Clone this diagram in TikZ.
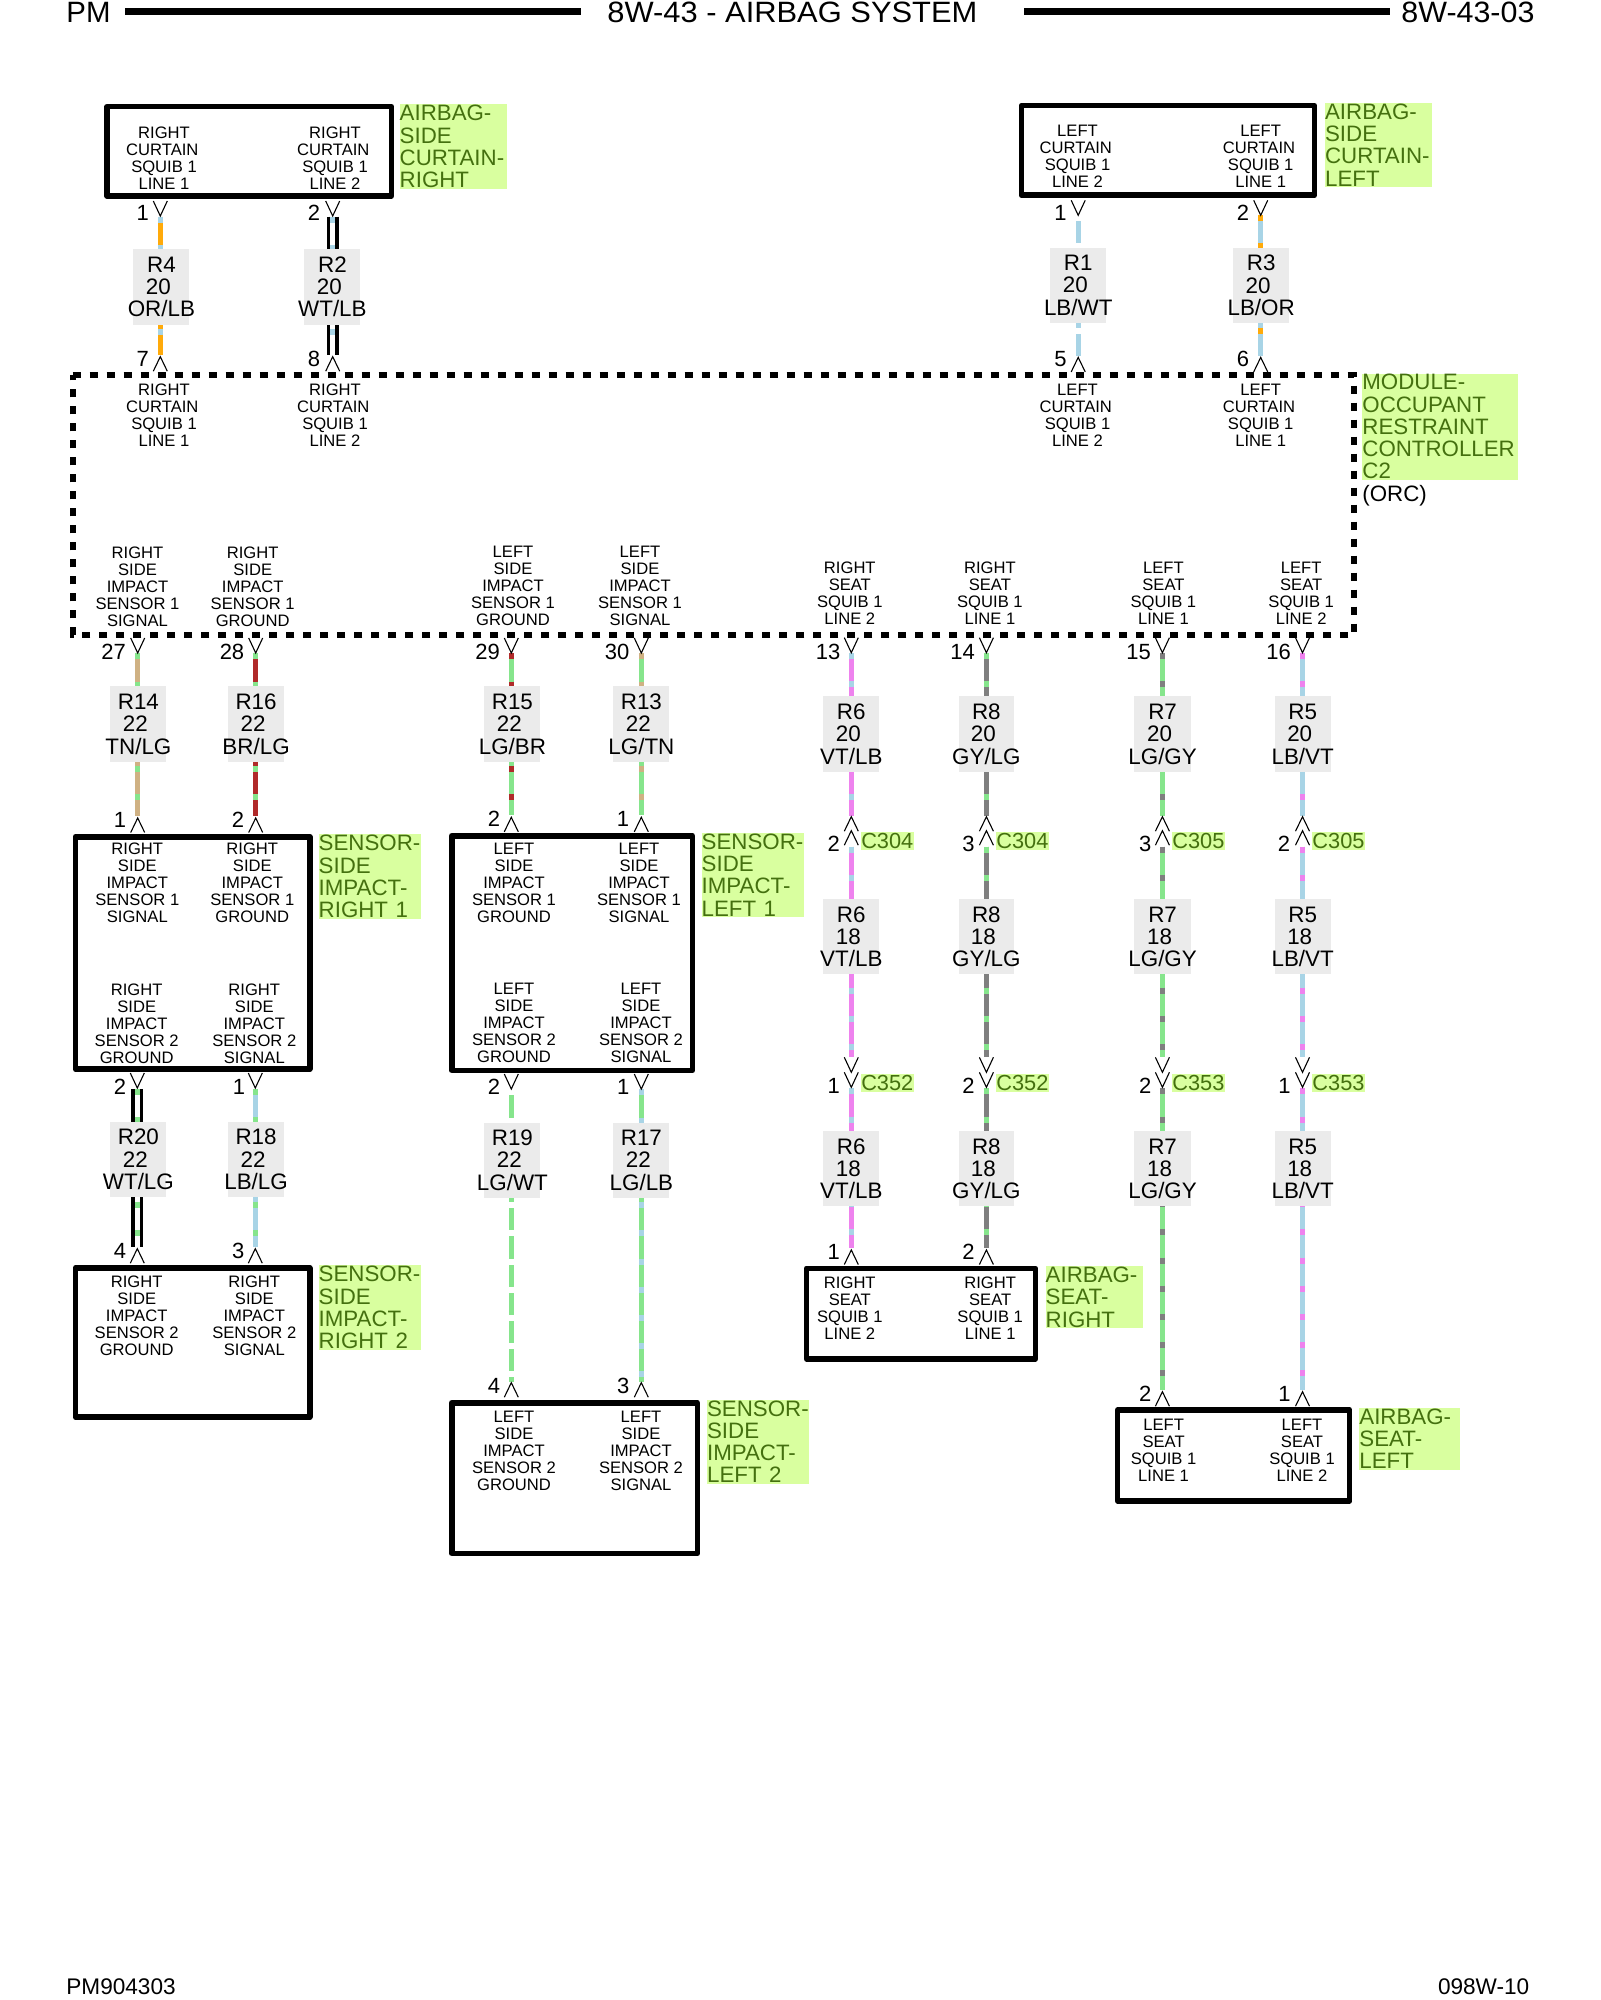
\documentclass[tikz,border=0pt]{standalone}
\usepackage{fontspec}
\usepackage{graphicx}
\setmainfont{Liberation Sans}
\definecolor{cOR}{HTML}{FFAA0A}
\definecolor{cLB}{HTML}{A8D4E6}
\definecolor{cLG}{HTML}{86E58C}
\definecolor{cTN}{HTML}{CFB183}
\definecolor{cBR}{HTML}{B02A2A}
\definecolor{cVT}{HTML}{EE82EE}
\definecolor{cGY}{HTML}{7F7F7F}
\definecolor{cWT}{HTML}{FFFFFF}
\definecolor{gbg}{HTML}{D9FF9F}
\definecolor{gtx}{HTML}{44700F}
\definecolor{lbg}{HTML}{EBEBEB}
\tikzset{
  wiremain/.style={line width=2.5pt},
  wiretracer/.style={line width=2.5pt,dash pattern=on 3pt off 11.1pt},
  wireblack/.style={line width=1.65pt,draw=black},
  pinmark/.style={line width=.55pt,draw=black},
  compbox/.style={draw=black,line width=2.8pt,line join=round,inner sep=0pt,outer sep=0pt,fill=none},
  orcline/.style={draw=black,line width=2.8pt,dash pattern=on 4.25pt off 4.25pt},
  headline/.style={draw=black,line width=3.2pt},
  smalltxt/.style={inner sep=0pt,align=center,font=\fontsize{8.3}{8.5}\selectfont},
  wirelab/.style={fill=lbg,inner sep=0pt,anchor=north west,align=center,font=\fontsize{11.2}{11.15}\selectfont},
  pintxt/.style={inner sep=0pt,font=\fontsize{11}{11}\selectfont},
  greenlab/.style={fill=gbg,text=gtx,inner sep=0pt,anchor=north west,align=left,font=\fontsize{11.15}{11.15}\selectfont},
  connlab/.style={fill=gbg,text=gtx,inner sep=0pt,anchor=north west,align=center,font=\fontsize{10.9}{11}\selectfont},
  headtxt/.style={inner sep=0pt,anchor=base west,font=\fontsize{14.7}{15}\selectfont},
  foottxt/.style={inner sep=0pt,anchor=base west,font=\fontsize{11.3}{12}\selectfont}
}
\newcommand\tw{\rule{3pt}{0pt}}
\newcommand\oa{\rule{1.7pt}{0pt}}
\newcommand\mkwire[6]{%
  \coordinate (#1a) at (#2,#3);\coordinate (#1b) at (#2,#4);
  \draw[wiremain,draw=#5] (#1a) -- (#1b);
  \draw[wiretracer,draw=#6] (#1a) -- (#1b);}
\newcommand\mkdouble[5]{%
  \coordinate (#1a) at (#2,#3);\coordinate (#1b) at (#2,#4);
  \draw[wireblack] ([xshift=-2.17pt]#1a) -- ([xshift=-2.17pt]#1b);
  \draw[wireblack] ([xshift=2.17pt]#1a) -- ([xshift=2.17pt]#1b);
  \draw[wiretracer,draw=#5] (#1a) -- (#1b);}
\newcommand\chV[2]{\draw[pinmark] ([shift={(-7,#2-15)}]#1) -- ([shift={(0,#2)}]#1) -- ([shift={(7,#2-15)}]#1);}
\newcommand\chA[2]{\draw[pinmark] ([shift={(-7,#2+14.5)}]#1) -- ([shift={(0,#2)}]#1) -- ([shift={(7,#2+14.5)}]#1);}
\newcommand\mkbox[5]{\pgfmathsetmacro\mybw{(#4-#2)*0.5}\pgfmathsetmacro\mybh{(#5-#3)*0.5}%
  \node[compbox,anchor=north west,minimum width=\mybw pt,minimum height=\mybh pt] (#1) at (#2,#3) {};}
\newcommand\mkwlab[8]{\pgfmathsetmacro\mybw{(#4-#2)*0.5}\pgfmathsetmacro\mybh{(#5-#3)*0.5}%
  \node[wirelab,minimum width=\mybw pt,minimum height=\mybh pt] (#1) at (#2,#3)
   {\makebox[0pt]{#6}\\\makebox[0pt]{#7\tw}\\\makebox[0pt]{#8}};}
\newcommand\mkgreen[6]{\pgfmathsetmacro\mybw{(#4-#2)*0.5}\pgfmathsetmacro\mybh{(#5-#3)*0.5}%
  \node[greenlab,text width=\mybw pt,minimum height=\mybh pt] (#1) at (#2,#3) {#6};}
\newcommand\mkclab[6]{\pgfmathsetmacro\mybw{(#4-#2)*0.5}\pgfmathsetmacro\mybh{(#5-#3)*0.5}%
  \node[connlab,minimum width=\mybw pt,minimum height=\mybh pt] (#1) at (#2,#3) {\makebox[0pt]{#6}};}
\newcommand\mkpin[4]{\node[pintxt] (#1) at (#2,#3) {#4};}
\newcommand\mkblk[4]{\node[smalltxt] (#1) at (#2,#3) {#4};}
\begin{document}
\begin{tikzpicture}[x=0.5pt,y=-0.5pt]
\useasboundingbox (0,0) rectangle (1600,2000);
\fill[white] (0,0) rectangle (1600,2000);
% header and footer
\node[headtxt] (hpm) at (66,23) {PM};
\node[headtxt] (htitle) at (607,23) {\scalebox{1.05}[1]{8W-43 - AIRBAG SYSTEM}};
\node[headtxt] (hcode) at (1401,23) {\scalebox{1.035}[1]{8W-43-03}};
\coordinate (hl1a) at (125,11.5);\coordinate (hl1b) at (581,11.5);
\coordinate (hl2a) at (1024,11.5);\coordinate (hl2b) at (1390,11.5);
\draw[headline] (hl1a) -- (hl1b);
\draw[headline] (hl2a) -- (hl2b);
\node[foottxt] (fl) at (66,1994) {PM904303};
\node[foottxt] (fr) at (1437.6,1994) {098W-10};
% wires
\mkwire{wa}{160.3}{216.7}{355}{cOR}{cLB}
\mkdouble{wb}{332.7}{216.7}{355}{cLB}
\mkwire{wc}{1078.2}{215}{355.7}{cLB}{cWT}
\mkwire{wd}{1260.7}{215}{355.7}{cLB}{cOR}
\mkwire{we}{137.7}{653.3}{816}{cTN}{cLG}
\mkwire{wf}{255.7}{653.3}{816}{cBR}{cLG}
\mkwire{wg}{511.3}{653.3}{815.3}{cLG}{cBR}
\mkwire{wh}{641.3}{653.3}{815.3}{cLG}{cTN}
\mkwire{wia}{851.3}{653}{816}{cVT}{cLB}
\mkwire{wib}{851.3}{846.7}{1056.7}{cVT}{cLB}
\mkwire{wic}{851.3}{1088.3}{1247.7}{cVT}{cLB}
\mkwire{wja}{986.4}{653}{816}{cGY}{cLG}
\mkwire{wjb}{986.4}{846.7}{1056.7}{cGY}{cLG}
\mkwire{wjc}{986.4}{1088.3}{1247.7}{cGY}{cLG}
\mkwire{wka}{1162.4}{653}{816}{cLG}{cGY}
\mkwire{wkb}{1162.4}{846.7}{1056.7}{cLG}{cGY}
\mkwire{wkc}{1162.4}{1088.3}{1390}{cLG}{cGY}
\mkwire{wla}{1302.5}{653}{816}{cLB}{cVT}
\mkwire{wlb}{1302.5}{846.7}{1056.7}{cLB}{cVT}
\mkwire{wlc}{1302.5}{1088.3}{1390}{cLB}{cVT}
\mkdouble{wm}{137.3}{1088.8}{1246.8}{cLG}
\mkwire{wn}{255.3}{1088.8}{1246.8}{cLB}{cLG}
\mkwire{wo}{511.3}{1089.3}{1381.7}{cLG}{cWT}
\mkwire{wp}{641.3}{1089.3}{1381.7}{cLG}{cLB}
% chevrons
\chV{waa}{-0.7}\chA{wab}{1.7}
\chV{wba}{-0.7}\chA{wbb}{1.7}
\chV{wca}{0.3}\chA{wcb}{1.7}
\chV{wda}{0.3}\chA{wdb}{1.7}
% wire label boxes
\mkwlab{l1}{133}{248.3}{189}{324.7}{R4}{20}{OR/LB}
\mkwlab{l2}{304}{248.3}{360}{324.7}{R2}{20}{WT/LB}
\mkwlab{l3}{1050}{247.3}{1105.7}{322.7}{R1}{20}{LB/WT}
\mkwlab{l4}{1233}{247.3}{1288.5}{322.7}{R3}{20}{LB/OR}
\mkwlab{l5}{110}{686}{166}{761.7}{R14}{22}{TN/LG}
\mkwlab{l6}{227.7}{686}{283.7}{761.7}{R16}{22}{BR/LG}
\mkwlab{l7}{484}{686}{540}{761.7}{R15}{22}{LG/BR}
\mkwlab{l8}{613}{686}{669}{761.7}{R13}{22}{LG/TN}
\mkwlab{l9}{823}{696}{878.8}{771.7}{R6}{20}{VT/LB}
\mkwlab{l10}{823}{898.7}{878.8}{974}{R6}{18}{VT/LB}
\mkwlab{l11}{823}{1130.7}{878.8}{1206}{R6}{18}{VT/LB}
\mkwlab{l12}{958.4}{696}{1013.5}{771.7}{R8}{20}{GY/LG}
\mkwlab{l13}{958.4}{898.7}{1013.5}{974}{R8}{18}{GY/LG}
\mkwlab{l14}{958.4}{1130.7}{1013.5}{1206}{R8}{18}{GY/LG}
\mkwlab{l15}{1134}{696}{1190.4}{771.7}{R7}{20}{LG/GY}
\mkwlab{l16}{1134}{898.7}{1190.4}{974}{R7}{18}{LG/GY}
\mkwlab{l17}{1134}{1130.7}{1190.4}{1206}{R7}{18}{LG/GY}
\mkwlab{l18}{1274.2}{696}{1330.4}{771.7}{R5}{20}{LB/VT}
\mkwlab{l19}{1274.2}{898.7}{1330.4}{974}{R5}{18}{LB/VT}
\mkwlab{l20}{1274.2}{1130.7}{1330.4}{1206}{R5}{18}{LB/VT}
\mkwlab{l21}{110}{1121.3}{166}{1196.7}{R20}{22}{WT/LG}
\mkwlab{l22}{227.7}{1121.3}{283.7}{1196.7}{R18}{22}{LB/LG}
\mkwlab{l23}{484}{1122.3}{540}{1197.3}{R19}{22}{LG/WT}
\mkwlab{l24}{613}{1122.3}{669}{1197.3}{R17}{22}{LG/LB}
% chevrons of the lower runs
\chV{wea}{-0.3}\chA{web}{2}
\chV{wfa}{-0.3}\chA{wfb}{2}
\chV{wga}{-0.3}\chA{wgb}{2}
\chV{wha}{-0.3}\chA{whb}{2}
\chV{wiaa}{-0.3}\chA{wiab}{0.7}\chA{wiab}{14.7}
\chV{wjaa}{-0.3}\chA{wjab}{0.7}\chA{wjab}{14.7}
\chV{wkaa}{-0.3}\chA{wkab}{0.7}\chA{wkab}{14.7}
\chV{wlaa}{-0.3}\chA{wlab}{0.7}\chA{wlab}{14.7}
\chV{wibb}{15.6}\chV{wibb}{30.6}
\chV{wjbb}{15.6}\chV{wjbb}{30.6}
\chV{wkbb}{15.6}\chV{wkbb}{30.6}
\chV{wlbb}{15.6}\chV{wlbb}{30.6}
\chA{wicb}{2.3}\chA{wjcb}{2.3}\chA{wkcb}{1.7}\chA{wlcb}{1.7}
\chV{wma}{-0.8}\chA{wmb}{1.9}
\chV{wna}{-0.8}\chA{wnb}{1.9}
\chV{woa}{-0.3}\chA{wob}{1}
\chV{wpa}{-0.3}\chA{wpb}{1}
% pin numbers
\mkpin{p1}{142.7}{213}{1}\mkpin{p2}{142.7}{358.7}{7}
\mkpin{p3}{314}{213}{2}\mkpin{p4}{314}{358.7}{8}
\mkpin{p5}{1060.6}{212.7}{1}\mkpin{p6}{1060.6}{358.7}{5}
\mkpin{p7}{1243}{212.7}{2}\mkpin{p8}{1243}{358.7}{6}
\mkpin{p9}{113.7}{651.7}{27}\mkpin{p10}{120}{820}{1}
\mkpin{p11}{232}{651.7}{28}\mkpin{p12}{238}{820}{2}
\mkpin{p13}{487.7}{651.7}{29}\mkpin{p14}{494}{819}{2}
\mkpin{p15}{617}{651.7}{30}\mkpin{p16}{623}{819}{1}
\mkpin{p17}{828}{651.7}{13}\mkpin{p18}{833.7}{844}{2}\mkpin{p19}{833.7}{1085.7}{1}\mkpin{p20}{833.7}{1252.3}{1}
\mkpin{p21}{962.6}{651.7}{14}\mkpin{p22}{968.4}{844}{3}\mkpin{p23}{968.4}{1085.7}{2}\mkpin{p24}{968.4}{1252.3}{2}
\mkpin{p25}{1138.7}{651.7}{15}\mkpin{p26}{1145.2}{844}{3}\mkpin{p27}{1145.2}{1085.7}{2}\mkpin{p28}{1145.2}{1394.3}{2}
\mkpin{p29}{1278.7}{651.7}{16}\mkpin{p30}{1284}{844}{2}\mkpin{p31}{1284.5}{1085.7}{1}\mkpin{p32}{1284.5}{1394.3}{1}
\mkpin{p33}{120}{1086.8}{2}\mkpin{p34}{120}{1251.4}{4}
\mkpin{p35}{239}{1086.8}{1}\mkpin{p36}{238.3}{1251.4}{3}
\mkpin{p37}{494}{1086.7}{2}\mkpin{p38}{494}{1386}{4}
\mkpin{p39}{623.3}{1086.7}{1}\mkpin{p40}{623.3}{1386}{3}
% connector labels
\mkclab{c1}{860.5}{831.7}{913.3}{850}{C304}
\mkclab{c2}{995.6}{831.7}{1048.4}{850}{C304}
\mkclab{c3}{1171.6}{831.7}{1224.4}{850}{C305}
\mkclab{c4}{1311.7}{831.7}{1364.5}{850}{C305}
\mkclab{c5}{860.5}{1074}{913.3}{1091.7}{C352}
\mkclab{c6}{995.6}{1074}{1048.4}{1091.7}{C352}
\mkclab{c7}{1171.6}{1074}{1224.4}{1091.7}{C353}
\mkclab{c8}{1311.7}{1074}{1364.5}{1091.7}{C353}
% component boxes
\mkbox{ba}{107}{106.7}{391.3}{196}
\mkbox{bb}{1021.3}{105.7}{1314.4}{195.3}
\mkbox{bc}{75.3}{836.7}{309.7}{1069}
\mkbox{bd}{451.7}{835.7}{692.3}{1070.3}
\mkbox{be}{75.3}{1268}{309.7}{1417}
\mkbox{bf}{451.7}{1402.7}{697.3}{1553.3}
\mkbox{bg}{806.5}{1268.3}{1035.4}{1358.7}
\mkbox{bh}{1117.6}{1410}{1349.6}{1500.7}
% ORC dashed box
\node[inner sep=0pt,anchor=north west,minimum width=640.3pt,minimum height=129.5pt] (orc) at (72.7,375) {};
\draw[orcline] (orc.north west) -- (orc.north east) -- (orc.south east) -- (orc.south west) -- cycle;
% green labels
\mkgreen{ga}{399.3}{104}{506.7}{188.3}{AIRBAG-\\SIDE\\CURTAIN-\\RIGHT}
\mkgreen{gb}{1324.7}{102.3}{1431.5}{186.7}{AIRBAG-\\SIDE\\CURTAIN-\\LEFT}
\mkgreen{gc}{1362}{373.3}{1518}{479.3}{MODULE-\\OCCUPANT\\RESTRAINT\\CONTROLLER\\C2}
\node[inner sep=0pt,anchor=west,font=\fontsize{11.15}{11.15}\selectfont] (gorc) at (1362,496) {(ORC)};
\mkgreen{gd}{318.3}{834}{420.7}{918.5}{SENSOR-\\SIDE\\IMPACT-\\RIGHT 1}
\mkgreen{ge}{701.3}{832.3}{803.7}{916.7}{SENSOR-\\SIDE\\IMPACT-\\LEFT 1}
\mkgreen{gf}{318.3}{1264.8}{420.7}{1349.8}{SENSOR-\\SIDE\\IMPACT-\\RIGHT 2}
\mkgreen{gg}{706.7}{1399.3}{808.7}{1483.3}{SENSOR-\\SIDE\\IMPACT-\\LEFT 2}
\mkgreen{gh}{1045.3}{1266}{1142.5}{1327.7}{AIRBAG-\\SEAT-\\RIGHT}
\mkgreen{gi}{1359}{1407.3}{1460}{1469.3}{AIRBAG-\\SEAT-\\LEFT}
% terminal texts
\mkblk{t1}{164}{158.5}{RIGHT\\CURTAIN\oa\\SQUIB 1\\LINE 1}
\mkblk{t2}{335}{158.5}{RIGHT\\CURTAIN\oa\\SQUIB 1\\LINE 2}
\mkblk{t3}{1077.5}{156.2}{LEFT\\CURTAIN\oa\\SQUIB 1\\LINE 2}
\mkblk{t4}{1260.7}{156.2}{LEFT\\CURTAIN\oa\\SQUIB 1\\LINE 1}
\mkblk{t5}{164}{415.7}{RIGHT\\CURTAIN\oa\\SQUIB 1\\LINE 1}
\mkblk{t6}{335}{415.7}{RIGHT\\CURTAIN\oa\\SQUIB 1\\LINE 2}
\mkblk{t7}{1077.5}{415.5}{LEFT\\CURTAIN\oa\\SQUIB 1\\LINE 2}
\mkblk{t8}{1260.7}{415.5}{LEFT\\CURTAIN\oa\\SQUIB 1\\LINE 1}
\mkblk{t9}{137.5}{586.3}{RIGHT\\SIDE\\IMPACT\\SENSOR 1\\SIGNAL}
\mkblk{t10}{252.7}{586.3}{RIGHT\\SIDE\\IMPACT\\SENSOR 1\\GROUND}
\mkblk{t11}{513}{586.3}{LEFT\\SIDE\\IMPACT\\SENSOR 1\\GROUND}
\mkblk{t12}{640}{586.3}{LEFT\\SIDE\\IMPACT\\SENSOR 1\\SIGNAL}
\mkblk{t13}{849.8}{593}{RIGHT\\SEAT\\SQUIB 1\\LINE 2}
\mkblk{t14}{989.9}{593}{RIGHT\\SEAT\\SQUIB 1\\LINE 1}
\mkblk{t15}{1163.4}{593}{LEFT\\SEAT\\SQUIB 1\\LINE 1}
\mkblk{t16}{1301.2}{593}{LEFT\\SEAT\\SQUIB 1\\LINE 2}
\mkblk{t17}{137.3}{882.5}{RIGHT\\SIDE\\IMPACT\\SENSOR 1\\SIGNAL}
\mkblk{t18}{252.3}{882.5}{RIGHT\\SIDE\\IMPACT\\SENSOR 1\\GROUND}
\mkblk{t19}{136.7}{1023.5}{RIGHT\\SIDE\\IMPACT\\SENSOR 2\\GROUND}
\mkblk{t20}{254.3}{1023.5}{RIGHT\\SIDE\\IMPACT\\SENSOR 2\\SIGNAL}
\mkblk{t21}{514}{882.5}{LEFT\\SIDE\\IMPACT\\SENSOR 1\\GROUND}
\mkblk{t22}{639}{882.5}{LEFT\\SIDE\\IMPACT\\SENSOR 1\\SIGNAL}
\mkblk{t23}{514}{1023.3}{LEFT\\SIDE\\IMPACT\\SENSOR 2\\GROUND}
\mkblk{t24}{641}{1023.3}{LEFT\\SIDE\\IMPACT\\SENSOR 2\\SIGNAL}
\mkblk{t25}{136.7}{1316}{RIGHT\\SIDE\\IMPACT\\SENSOR 2\\GROUND}
\mkblk{t26}{254.3}{1316}{RIGHT\\SIDE\\IMPACT\\SENSOR 2\\SIGNAL}
\mkblk{t27}{514}{1451}{LEFT\\SIDE\\IMPACT\\SENSOR 2\\GROUND}
\mkblk{t28}{641}{1451}{LEFT\\SIDE\\IMPACT\\SENSOR 2\\SIGNAL}
\mkblk{t29}{849.8}{1308}{RIGHT\\SEAT\\SQUIB 1\\LINE 2}
\mkblk{t30}{990.2}{1308}{RIGHT\\SEAT\\SQUIB 1\\LINE 1}
\mkblk{t31}{1163.6}{1450}{LEFT\\SEAT\\SQUIB 1\\LINE 1}
\mkblk{t32}{1302}{1450}{LEFT\\SEAT\\SQUIB 1\\LINE 2}
\end{tikzpicture}
\end{document}
